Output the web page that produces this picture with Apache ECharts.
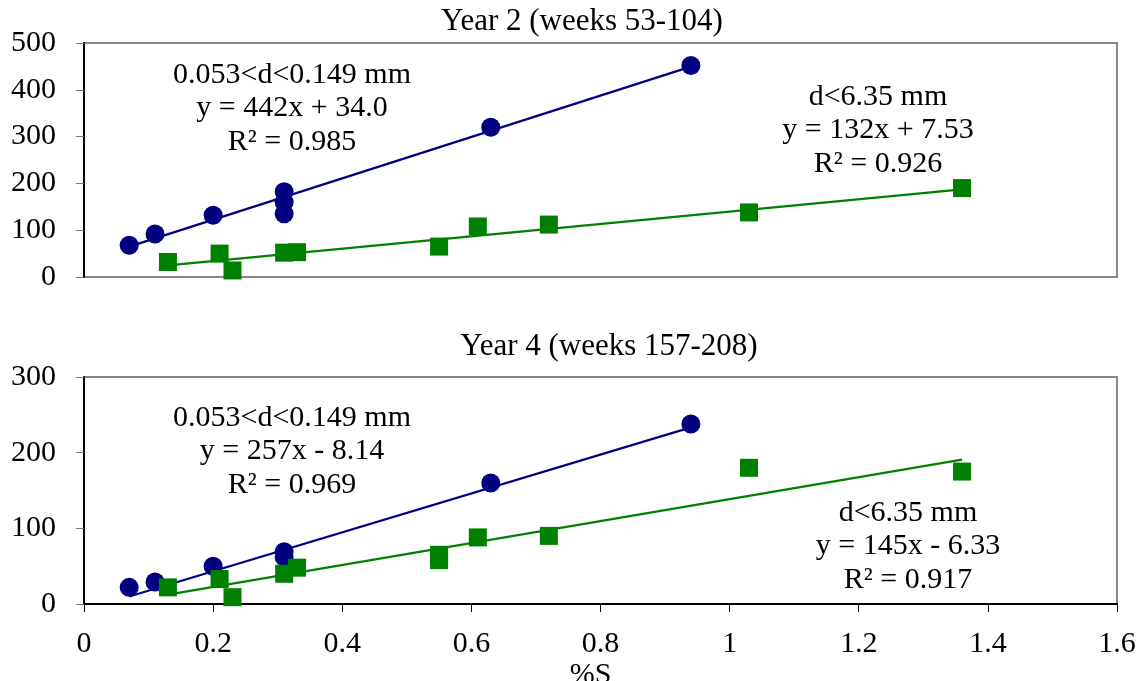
<!DOCTYPE html>
<html>
<head>
<meta charset="utf-8">
<script src="https://cdn.jsdelivr.net/npm/echarts@6/dist/echarts.min.js"></script>
<style>html,body{margin:0;padding:0;background:#fff}#c{width:1142px;height:681px}</style>
</head>
<body>
<div id="c"></div>
<script>
// ---- Data ----
const titles = ['Year 2 (weeks 53-104)', 'Year 4 (weeks 157-208)'];
const xTicks = [0, 0.2, 0.4, 0.6, 0.8, 1, 1.2, 1.4, 1.6];
const xName = '%S';

// Year 2, 0.053<d<0.149 mm (circles)
const y2FineX = [0.07, 0.11, 0.20, 0.31, 0.31, 0.31, 0.63, 0.94];
const y2FineY = [68, 92, 132, 182, 160, 135, 320, 452];
// Year 2, d<6.35 mm (squares)
const y2CoarseX = [0.13, 0.21, 0.23, 0.31, 0.33, 0.55, 0.61, 0.72, 1.03, 1.36];
const y2CoarseY = [32, 50, 14, 52, 53, 65, 108, 112, 138, 190];
// Year 4, 0.053<d<0.149 mm
const y4FineX = [0.07, 0.11, 0.20, 0.31, 0.31, 0.63, 0.94];
const y4FineY = [22, 29, 50, 69, 62, 160, 238];
// Year 4, d<6.35 mm
const y4CoarseX = [0.13, 0.21, 0.23, 0.31, 0.33, 0.55, 0.55, 0.61, 0.72, 1.03, 1.36];
const y4CoarseY = [22, 33, 9, 40, 48, 65, 58, 88, 90, 180, 175];

// Trendline endpoints as drawn
const y2FineTrend = [[0.07, 64.9], [0.94, 449.5]];
const y2CoarseTrend = [[0.13, 24.7], [1.36, 187.1]];
const y4FineTrend = [[0.07, 9.9], [0.94, 233.4]];
const y4CoarseTrend = [[0.13, 12.5], [1.36, 190.9]];

// Annotation texts
const y2FineLabel = ['0.053<d<0.149 mm', 'y = 442x + 34.0', 'R² = 0.985'];
const y2CoarseLabel = ['d<6.35 mm', 'y = 132x + 7.53', 'R² = 0.926'];
const y4FineLabel = ['0.053<d<0.149 mm', 'y = 257x - 8.14', 'R² = 0.969'];
const y4CoarseLabel = ['d<6.35 mm', 'y = 145x - 6.33', 'R² = 0.917'];

// ---- Chart ----
const FONT = "'Liberation Serif', 'Times New Roman', serif";
const NAVY = '#000080', GREEN = '#008000';
const zip = (xs, ys) => xs.map((x, i) => [x, ys[i]]);

const chart = echarts.init(document.getElementById('c'), null, {renderer: 'canvas'});

function xAxisCfg(gridIndex, showLabels) {
  return {
    type: 'value', gridIndex, min: 0, max: 1.6, interval: 0.2,
    axisLine: {show: showLabels, lineStyle: {color: '#000', width: 2}},
    axisTick: {show: showLabels, length: 8, lineStyle: {color: '#000', width: 1}},
    axisLabel: {show: showLabels, fontFamily: FONT, fontSize: 30, color: '#000', margin: 25,
      formatter: v => xTicks.includes(+v.toFixed(1)) ? String(+v.toFixed(1)) : ''},
    splitLine: {show: false},
    name: showLabels ? xName : '', nameLocation: 'middle', nameGap: 52,
    nameTextStyle: {fontFamily: FONT, fontSize: 30, color: '#000', padding: [0, 20, 0, 0]}
  };
}
function yAxisCfg(gridIndex, max, interval) {
  return {
    type: 'value', gridIndex, min: 0, max, interval,
    axisLine: {show: true, lineStyle: {color: '#000', width: 2}},
    axisTick: {show: true, length: 8, lineStyle: {color: '#777', width: 1}},
    axisLabel: {fontFamily: FONT, fontSize: 30, color: '#000', margin: 28},
    splitLine: {show: false}
  };
}
function scatter(data, xi, color, symbol) {
  return {type: 'scatter', xAxisIndex: xi, yAxisIndex: xi, data, symbol,
    symbolSize: symbol === 'circle' ? 19 : 18, itemStyle: {color, opacity: 1}, z: 3, silent: true};
}
function trend(data, xi, color) {
  return {type: 'line', xAxisIndex: xi, yAxisIndex: xi, data, showSymbol: false, symbol: 'none',
    lineStyle: {color, width: 2.2}, z: 2, silent: true, animation: false};
}
function label(lines, cx, y0) {
  return {type: 'text', x: cx, y: y0,
    style: {text: lines.join('\n'), textAlign: 'center', textVerticalAlign: 'top',
      font: '30px ' + FONT, fill: '#000', lineHeight: 33.5}};
}

chart.setOption({
  animation: false,
  backgroundColor: '#fff',
  grid: [
    {left: 84, right: 25, top: 43, height: 234, show: true, borderColor: '#888', borderWidth: 2,
      backgroundColor: 'transparent', outerBoundsMode: 'none', containLabel: false},
    {left: 84, right: 25, top: 377, height: 227, show: true, borderColor: '#888', borderWidth: 2,
      backgroundColor: 'transparent', outerBoundsMode: 'none', containLabel: false}
  ],
  xAxis: [xAxisCfg(0, false), xAxisCfg(1, true)],
  yAxis: [yAxisCfg(0, 500, 100), yAxisCfg(1, 300, 100)],
  series: [
    trend(y2FineTrend, 0, NAVY), trend(y2CoarseTrend, 0, GREEN),
    scatter(zip(y2FineX, y2FineY), 0, NAVY, 'circle'),
    scatter(zip(y2CoarseX, y2CoarseY), 0, GREEN, 'rect'),
    trend(y4FineTrend, 1, NAVY), trend(y4CoarseTrend, 1, GREEN),
    scatter(zip(y4FineX, y4FineY), 1, NAVY, 'circle'),
    scatter(zip(y4CoarseX, y4CoarseY), 1, GREEN, 'rect')
  ],
  graphic: [
    {type: 'text', x: 582, y: 22, style: {text: titles[0], textAlign: 'center', textVerticalAlign: 'middle', font: '31px ' + FONT, fill: '#000'}},
    {type: 'text', x: 609, y: 347, style: {text: titles[1], textAlign: 'center', textVerticalAlign: 'middle', font: '31px ' + FONT, fill: '#000'}},
    label(y2FineLabel, 292, 58),
    label(y2CoarseLabel, 878, 80),
    label(y4FineLabel, 292, 401),
    label(y4CoarseLabel, 908, 496)
  ]
});
</script>
</body>
</html>
